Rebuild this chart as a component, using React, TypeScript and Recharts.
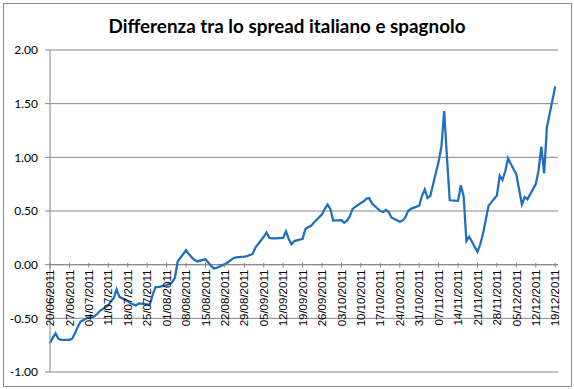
import { LineChart, Line, XAxis, YAxis, CartesianGrid, ReferenceLine } from "recharts";

// Monday of each week (tick labels)
const weekStarts = [
  "20/06/2011", "27/06/2011", "04/07/2011", "11/07/2011", "18/07/2011", "25/07/2011",
  "01/08/2011", "08/08/2011", "15/08/2011", "22/08/2011", "29/08/2011", "05/09/2011",
  "12/09/2011", "19/09/2011", "26/09/2011", "03/10/2011", "10/10/2011", "17/10/2011",
  "24/10/2011", "31/10/2011", "07/11/2011", "14/11/2011", "21/11/2011", "28/11/2011",
  "05/12/2011", "12/12/2011", "19/12/2011",
];

// spread difference, Mon..Fri of each week
const weeklyValues: number[][] = [
  [-0.73, -0.68, -0.64, -0.69, -0.7],
  [-0.7, -0.69, -0.64, -0.58, -0.53],
  [-0.49, -0.49, -0.48, -0.46, -0.43],
  [-0.38, -0.34, -0.31, -0.23, -0.3],
  [-0.34, -0.36, -0.37, -0.38, -0.36],
  [-0.37, -0.37, -0.28, -0.21, -0.21],
  [-0.19, -0.18, -0.165, -0.12, 0.03],
  [0.135, 0.1, 0.07, 0.045, 0.03],
  [0.05, 0.02, -0.01, -0.035, -0.03],
  [0.005, 0.02, 0.04, 0.06, 0.067],
  [0.075, 0.08, 0.09, 0.1, 0.16],
  [0.26, 0.3, 0.25, 0.245, 0.245],
  [0.25, 0.31, 0.24, 0.19, 0.22],
  [0.24, 0.33, 0.35, 0.36, 0.39],
  [0.47, 0.52, 0.56, 0.52, 0.41],
  [0.415, 0.39, 0.41, 0.45, 0.52],
  [0.575, 0.59, 0.615, 0.62, 0.57],
  [0.5, 0.49, 0.51, 0.49, 0.44],
  [0.4, 0.41, 0.44, 0.5, 0.52],
  [0.55, 0.64, 0.7, 0.62, 0.64],
  [0.96, 1.1, 1.43, 1.0, 0.6],
  [0.595, 0.74, 0.64, 0.22, 0.26],
  [0.12, 0.19, 0.29, 0.42, 0.55],
  [0.645, 0.83, 0.79, 0.87, 0.99],
  [0.84, 0.7, 0.56, 0.63, 0.61],
  [0.75, 0.88, 1.1, 0.85, 1.28],
  [1.66],
];

const yTicks = [-1, -0.5, 0, 0.5, 1, 1.5, 2];

const data = weeklyValues.flatMap((week, i) =>
  week.map((value, j) => ({ day: i * 7 + j, value }))
);

const W = 574;
const H = 389;
const PLOT_TOP = 50;
const PLOT_BOTTOM = 372;
const Y_MIN = -1;
const Y_MAX = 2;
const ZERO_Y = PLOT_TOP + ((PLOT_BOTTOM - PLOT_TOP) * Y_MAX) / (Y_MAX - Y_MIN);
const GRID = "#868686";

function DateTick(props: any) {
  const { x, payload } = props;
  const label = weekStarts[Math.round(payload.value / 7)];
  return (
    <g transform={`translate(${x},${ZERO_Y})`}>
      <line x1={0} x2={0} y1={-2} y2={3} stroke={GRID} />
      <text
        transform="rotate(-90)"
        x={-5}
        y={0}
        dy="0.36em"
        textAnchor="end"
        fontSize={11.5}
        fontFamily="'Liberation Sans', Arial, sans-serif"
        fill="#000"
      >
        {label}
      </text>
    </g>
  );
}

export default function App() {
  return (
    <div style={{ position: "absolute", left: 0, top: 0, width: W, height: H, background: "#fff" }}>
      <div
        style={{
          position: "absolute",
          left: 3,
          top: 3,
          width: 567,
          height: 382,
          border: "1px solid #8c8c8c",
        }}
      />
      <svg width={W} height={H} style={{ position: "absolute", left: 0, top: 0 }}>
        <text
          x={287}
          y={33}
          textAnchor="middle"
          fontSize={18}
          fontWeight="bold"
          fontFamily="Lato, 'Open Sans', sans-serif"
          textLength={357}
          lengthAdjust="spacingAndGlyphs"
          fill="#000"
        >
          Differenza tra lo spread italiano e spagnolo
        </text>
      </svg>
      <div style={{ position: "absolute", left: 0, top: 0 }}>
        <LineChart
          width={W}
          height={H}
          data={data}
          margin={{ top: PLOT_TOP, right: 16, bottom: 0, left: 0 }}
        >
          <CartesianGrid horizontal vertical={false} stroke={GRID} strokeWidth={1} />
          <XAxis
            dataKey="day"
            type="number"
            domain={[0, 183]}
            ticks={weekStarts.map((_, i) => i * 7)}
            tick={<DateTick />}
            axisLine={false}
            tickLine={false}
            height={H - PLOT_BOTTOM}
            interval={0}
          />
          <YAxis
            domain={[Y_MIN, Y_MAX]}
            ticks={yTicks}
            width={50}
            tickFormatter={(v: number) => v.toFixed(2)}
            tick={{ fontSize: 12, fill: "#000", fontFamily: "Lato, sans-serif" }}
            axisLine={{ stroke: GRID }}
            tickLine={{ stroke: GRID }}
            tickSize={5}
            tickMargin={7}
            interval={0}
          />
          <ReferenceLine y={0} stroke={GRID} />
          <Line
            dataKey="value"
            type="linear"
            stroke="#1f6fbd"
            strokeWidth={2.25}
            dot={false}
            isAnimationActive={false}
          />
        </LineChart>
      </div>
    </div>
  );
}
